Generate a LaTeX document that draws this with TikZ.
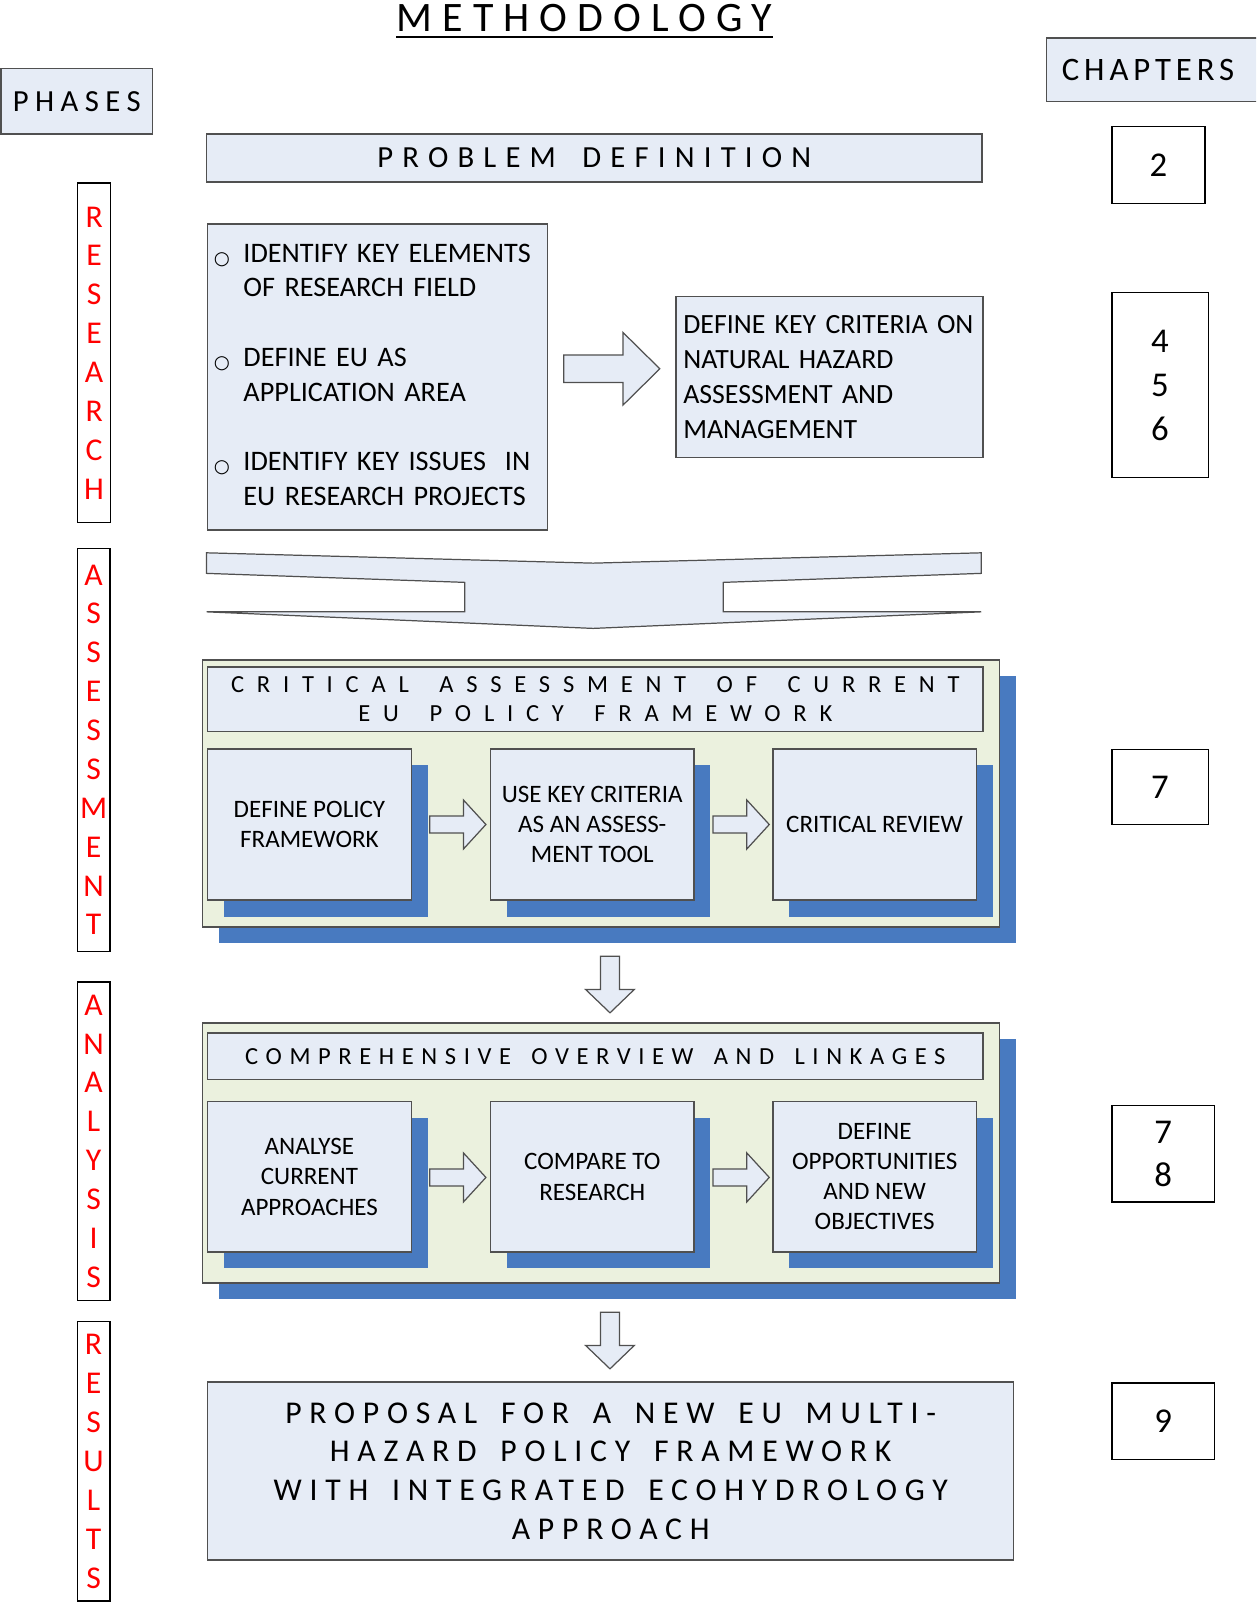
\documentclass[tikz,border=0pt]{standalone}
\usepackage{fontspec}
\setmainfont{Carlito}
\newfontfamily\djv{DejaVu Sans}
\usetikzlibrary{shadows}
\definecolor{lblue}{RGB}{230,236,246}
\definecolor{lgreen}{RGB}{235,241,222}
\definecolor{sblue}{RGB}{72,122,192}
\definecolor{bord}{RGB}{80,80,80}
\newcommand{\lsp}[2]{\addfontfeature{LetterSpace=#1}\spaceskip=\dimexpr\fontdimen2\font+#2\relax}
\newcommand{\bul}{\raisebox{-1pt}{\djv\fontsize{9}{9}\selectfont ○}}
\begin{document}
\begin{tikzpicture}[x=0.5pt,y=-0.5pt,
 bx/.style={draw=bord, fill=lblue, line width=0.7pt, inner sep=0pt},
 chap/.style={draw=black, fill=white, line width=0.6pt, inner sep=0pt, font=\fontsize{17}{21.5}\selectfont, align=center},
 phase/.style={draw=black, fill=white, line width=0.6pt, inner sep=0pt, minimum width=16pt, text=red, font=\fontsize{15.5}{19}\selectfont, align=center},
 inbox/.style={bx, minimum width=99.5pt, general shadow={fill=sblue, shadow xshift=8pt, shadow yshift=-8pt}, font=\fontsize{12.25}{14.7}\selectfont, align=center},
 panel/.style={draw=bord, fill=lgreen, line width=0.7pt, inner sep=0pt, minimum width=389.5pt, general shadow={fill=sblue, shadow xshift=8pt, shadow yshift=-8pt}},
 barrow/.style={draw=bord, fill=lblue, line width=0.6pt, line join=miter}
]
\useasboundingbox (0,0) rectangle (1228,1568);
\clip (0,0) rectangle (1228,1568);

% title
\node[inner sep=0pt, font=\fontsize{20.5}{24}\selectfont\lsp{24}{0pt}] (title) at (571.5,18) {METHODOLOGY};
\draw[line width=1.2pt] ([yshift=-2.5pt]title.base west) -- ([yshift=-2.5pt]title.base east);

% headers
\node[bx, minimum width=74pt, minimum height=32pt, font=\fontsize{15}{18}\selectfont\lsp{21}{0pt}] (phases) at (75,99) {PHASES};
\node[bx, minimum width=108.5pt, minimum height=31pt, text width=93.5pt, inner xsep=7.5pt, align=left, font=\fontsize{16}{19}\selectfont\lsp{15}{0pt}] (chapters) at (1131.5,68) {CHAPTERS};

% problem definition
\node[bx, minimum width=379pt, minimum height=23.5pt, font=\fontsize{15}{18}\selectfont\lsp{30}{5pt}] (prob) at (581,154.5) {PROBLEM DEFINITION};
\node[chap, minimum width=45.5pt, minimum height=37.5pt] (c2) at (1132.5,161.5) {2};

% phase columns
\node[phase, minimum height=166pt] (pres) at (92,345) {R\\E\\S\\E\\A\\R\\C\\H};
\node[phase, minimum height=197pt] (pass) at (91.5,733) {A\\S\\S\\E\\S\\S\\M\\E\\N\\T};
\node[phase, minimum height=155.5pt] (pana) at (91.5,1115.5) {A\\N\\A\\L\\Y\\S\\I\\S};
\node[phase, minimum height=136.5pt] (pres2) at (91.5,1428.5) {R\\E\\S\\U\\L\\T\\S};

% research stage
\node[bx, minimum width=166pt, minimum height=149.5pt, text width=160pt, inner xsep=3pt, inner ysep=0pt, align=left, font=\fontsize{13.8}{17}\selectfont] (list) at (369,368.5) {%
\begin{tabular}{@{}p{14.5pt}@{}l@{}}
\bul & IDENTIFY KEY ELEMENTS\\
 & OF RESEARCH FIELD\\
 & \\
\bul & DEFINE EU AS\\
 & APPLICATION AREA\\
 & \\
\bul & IDENTIFY KEY ISSUES~~IN\\
 & EU RESEARCH PROJECTS
\end{tabular}};
\draw[barrow] (551,347) -- (609,347) -- (609,325) -- (645,360.5) -- (609,396) -- (609,374) -- (551,374) -- cycle;
\node[bx, minimum width=150pt, minimum height=78.5pt, text width=143pt, inner xsep=3.5pt, align=left, font=\fontsize{13.6}{17}\selectfont] (crit) at (811,368.5) {DEFINE KEY CRITERIA ON\\NATURAL HAZARD\\ASSESSMENT AND\\MANAGEMENT};
\node[chap, minimum width=47pt, minimum height=90.5pt] (c456) at (1134,376.5) {4\\5\\6};

% merge arrow
\draw[barrow] (201.9,540.4) -- (579.8,550.5) -- (959.2,540.4) -- (959.2,560.5) -- (706.9,569.3) -- (706.9,598.1) -- (959.2,598.1) -- (579.8,614.3) -- (201.9,598.1) -- (454.4,598.1) -- (454.4,569.3) -- (201.9,560.5) -- cycle;

% assessment stage
\node[panel, minimum height=130.5pt] (p1) at (587.5,775.5) {};
\node[bx, minimum width=379pt, minimum height=31.5pt, align=center, font=\fontsize{12}{14.5}\selectfont\lsp{52}{6pt}] (h1) at (582,683.5) {CRITICAL ASSESSMENT OF CURRENT\\EU POLICY FRAMEWORK};
\node[inbox, minimum height=74pt] (a1) at (302.5,806) {DEFINE POLICY\\FRAMEWORK};
\node[inbox, minimum height=74pt] (a2) at (579,806) {USE KEY CRITERIA\\AS AN ASSESS-\\MENT TOOL};
\node[inbox, minimum height=74pt] (a3) at (855,806) {CRITICAL REVIEW};
\draw[barrow] (420,797.7) -- (453,797.7) -- (453,782) -- (475,806) -- (453,830) -- (453,814.3) -- (420,814.3) -- cycle;
\draw[barrow] (697,797.7) -- (730,797.7) -- (730,782) -- (752,806) -- (730,830) -- (730,814.3) -- (697,814.3) -- cycle;
\node[chap, minimum width=47pt, minimum height=36.5pt] (c7) at (1134,769.5) {7};

% down arrow 1
\draw[barrow] (587,934.7) -- (605.5,934.7) -- (605.5,967.3) -- (620,967.3) -- (596.3,990.1) -- (572.5,967.3) -- (587,967.3) -- cycle;

% analysis stage
\node[panel, minimum height=127pt] (p2) at (587.5,1127) {};
\node[bx, minimum width=379pt, minimum height=22.5pt, font=\fontsize{12}{14.5}\selectfont\lsp{31}{3.5pt}] (h2) at (582,1032.5) {COMPREHENSIVE OVERVIEW AND LINKAGES};
\node[inbox, minimum height=73.5pt] (b1) at (302.5,1150.5) {ANALYSE\\CURRENT\\APPROACHES};
\node[inbox, minimum height=73.5pt] (b2) at (579,1150.5) {COMPARE TO\\RESEARCH};
\node[inbox, minimum height=73.5pt] (b3) at (855,1150.5) {DEFINE\\OPPORTUNITIES\\AND NEW\\OBJECTIVES};
\draw[barrow] (420,1142.7) -- (453,1142.7) -- (453,1127) -- (475,1151) -- (453,1175) -- (453,1159.3) -- (420,1159.3) -- cycle;
\draw[barrow] (697,1142.7) -- (730,1142.7) -- (730,1127) -- (752,1151) -- (730,1175) -- (730,1159.3) -- (697,1159.3) -- cycle;
\node[chap, minimum width=50pt, minimum height=47pt, font=\fontsize{17}{21}\selectfont] (c78) at (1137,1128) {7\\8};

% down arrow 2
\draw[barrow] (587,1282.7) -- (605.5,1282.7) -- (605.5,1315.3) -- (620,1315.3) -- (596.3,1338.1) -- (572.5,1315.3) -- (587,1315.3) -- cycle;

% results
\node[bx, minimum width=394pt, minimum height=87pt, align=center, font=\fontsize{15.5}{18.85}\selectfont\lsp{24.5}{4.3pt}] (prop) at (597,1438) {PROPOSAL FOR A NEW EU MULTI-\\HAZARD POLICY FRAMEWORK\\WITH INTEGRATED ECOHYDROLOGY\\APPROACH};
\node[chap, minimum width=50pt, minimum height=37.5pt] (c9) at (1137,1389.5) {9};
\end{tikzpicture}
\end{document}
